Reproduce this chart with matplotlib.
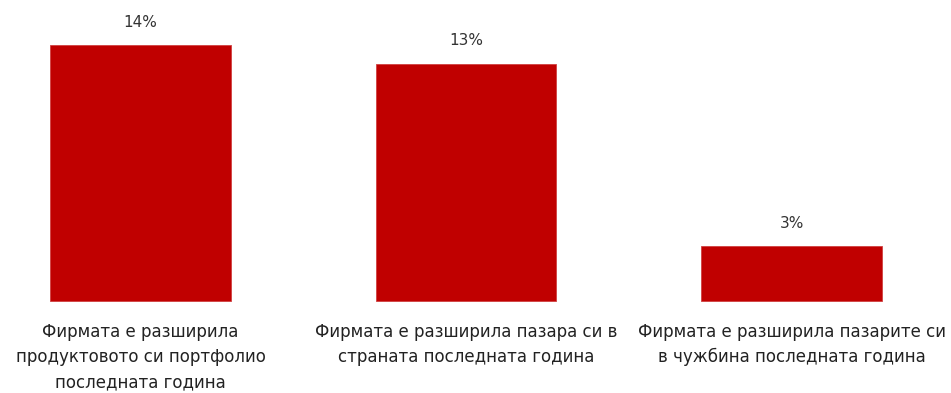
import matplotlib
matplotlib.use("Agg")
from matplotlib import pyplot as plt
from matplotlib import transforms

categories = [
    "Фирмата е разширила\nпродуктовото си портфолио\nпоследната година",
    "Фирмата е разширила пазара си в\nстраната последната година",
    "Фирмата е разширила пазарите си\nв чужбина последната година",
]
values = [14, 13, 3]
value_labels = ["14%", "13%", "3%"]

bar_color = "#C00000"
text_color = "#333333"

fig = plt.figure(figsize=(9.51, 3.93), dpi=100)
ax = fig.add_axes([0, 0, 1, 1])

x = list(range(len(values)))
ax.bar(x, values, width=0.556, color=bar_color, edgecolor="#d04040", linewidth=0.6)

# value labels above the bars
for xi, v, lab in zip(x, values, value_labels):
    ax.annotate(lab, (xi, v), xytext=(0, 16.5), textcoords="offset points",
                ha="center", va="center", fontsize=11, color=text_color)

# category labels below the baseline
trans = transforms.blended_transform_factory(ax.transData, fig.transFigure)
for xi, cat in zip(x, categories):
    ax.text(xi, 1 - 323 / 393, cat, transform=trans, ha="center", va="top",
            fontsize=12, color="#222222", linespacing=1.5)

ax.set_xlim(-0.4316, 2.49)
ax.set_ylim(-5.04, 16.49)
ax.axis("off")

fig.savefig("out.png", dpi=100, facecolor="white")
